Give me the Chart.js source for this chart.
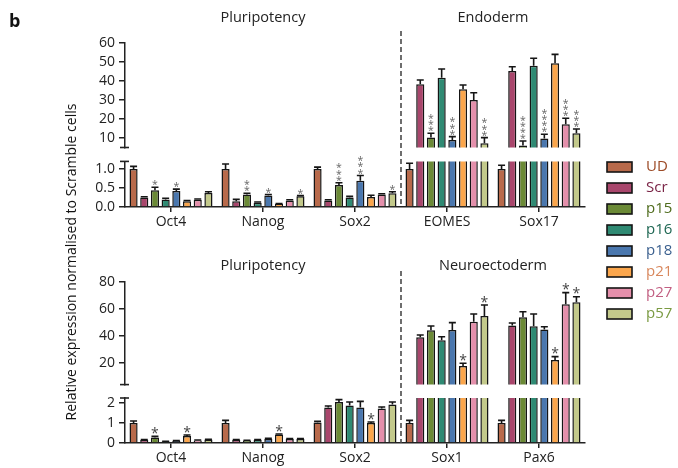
<!DOCTYPE html>
<html>
<head>
<meta charset="utf-8">
<script src="https://cdn.jsdelivr.net/npm/chart.js@4/dist/chart.umd.min.js"></script>
<style>
  body { margin: 0; background: #fff; }
  #wrap { position: relative; width: 678px; height: 468px; }
  #wrap canvas { position: absolute; left: 0; top: 0; }
</style>
</head>
<body>
<div id="wrap">
  <canvas id="topHigh" width="678" height="468"></canvas>
  <canvas id="topLow" width="678" height="468"></canvas>
  <canvas id="botHigh" width="678" height="468"></canvas>
  <canvas id="botLow" width="678" height="468"></canvas>
</div>
<script>
const FONT = "'Open Sans', 'Noto Sans', sans-serif";

const seriesNames = ['UD', 'Scr', 'p15', 'p16', 'p18', 'p21', 'p27', 'p57'];
const topGroups = ['Oct4', 'Nanog', 'Sox2', 'EOMES', 'Sox17'];
const bottomGroups = ['Oct4', 'Nanog', 'Sox2', 'Sox1', 'Pax6'];

// rows = series (UD..p57), columns = genes
const topMean = [
  [1.0, 1.0, 1.0, 1.0, 1.0],
  [0.25, 0.15, 0.17, 38.3, 45.3],
  [0.44, 0.33, 0.58, 10.2, 6.0],
  [0.2, 0.11, 0.25, 41.7, 48.0],
  [0.42, 0.3, 0.69, 9.0, 9.8],
  [0.15, 0.08, 0.26, 35.6, 49.3],
  [0.19, 0.17, 0.33, 30.0, 17.2],
  [0.37, 0.28, 0.36, 7.2, 12.5]
];
const topErr = [
  [0.07, 0.13, 0.05, 0.15, 0.1],
  [0.02, 0.05, 0.02, 2.2, 2.2],
  [0.08, 0.03, 0.06, 2.3, 2.4],
  [0.03, 0.02, 0.03, 4.6, 4.0],
  [0.05, 0.03, 0.14, 1.7, 2.2],
  [0.02, 0.01, 0.05, 2.3, 4.7],
  [0.02, 0.02, 0.02, 3.8, 3.2],
  [0.03, 0.02, 0.04, 3.0, 2.2]
];
const topStars = [
  [0, 0, 0, 0, 0],
  [0, 0, 0, 0, 0],
  [1, 2, 3, 3, 4],
  [0, 0, 0, 0, 0],
  [1, 1, 3, 3, 4],
  [0, 0, 0, 0, 0],
  [0, 0, 0, 0, 3],
  [0, 1, 1, 3, 3]
];

const bottomMean = [
  [1.0, 1.0, 1.03, 1.0, 1.0],
  [0.15, 0.15, 1.77, 39.0, 47.7],
  [0.28, 0.12, 2.05, 44.2, 53.9],
  [0.07, 0.15, 1.87, 36.8, 47.2],
  [0.1, 0.2, 1.78, 44.4, 44.9],
  [0.35, 0.42, 1.0, 17.8, 22.2],
  [0.13, 0.2, 1.73, 50.6, 63.5],
  [0.17, 0.2, 1.93, 54.8, 65.0]
];
const bottomErr = [
  [0.1, 0.13, 0.05, 0.13, 0.13],
  [0.02, 0.02, 0.08, 1.7, 1.9],
  [0.05, 0.02, 0.12, 3.2, 4.1],
  [0.01, 0.02, 0.18, 2.7, 9.1],
  [0.02, 0.03, 0.3, 5.5, 2.0],
  [0.05, 0.03, 0.05, 2.0, 2.5],
  [0.02, 0.02, 0.07, 5.7, 8.6],
  [0.02, 0.02, 0.12, 8.2, 4.1]
];
const bottomStars = [
  [0, 0, 0, 0, 0],
  [0, 0, 0, 0, 0],
  [1, 0, 0, 0, 0],
  [0, 0, 0, 0, 0],
  [0, 0, 0, 0, 0],
  [1, 1, 1, 1, 1],
  [0, 0, 0, 0, 1],
  [0, 0, 0, 1, 1]
];

const topHighTicks = [10, 20, 30, 40, 50, 60];
const topLowTicks = [0, 0.5, 1.0];
const bottomHighTicks = [20, 40, 60, 80];
const bottomLowTicks = [0, 1, 2];

const barColors = ['#b86a4b', '#a9466c', '#6b8a36', '#2f8a73', '#4a77ae', '#fba64c', '#e48fab', '#c3c98b'];
const labelColors = ['#9c4a26', '#7a2446', '#4e6b1c', '#1d6652', '#3a5f8e', '#d8875c', '#c25f82', '#7a9a42'];

// error bars + significance stars, only for bars whose mean falls in this segment
function errorPlugin(means, errs, stars, cfg) {
  return {
    id: 'errbars',
    afterDatasetsDraw(chart) {
      const ctx = chart.ctx;
      const y = chart.scales.y;
      ctx.save();
      means.forEach((row, i) => {
        const meta = chart.getDatasetMeta(i);
        row.forEach((m, j) => {
          if ((m >= cfg.breakAt) !== cfg.upper) return;
          const bar = meta.data[j];
          const yTop = y.getPixelForValue(m);
          const yErr = y.getPixelForValue(m + errs[i][j]);
          ctx.strokeStyle = '#151515';
          ctx.lineWidth = 1.6;
          ctx.beginPath();
          ctx.moveTo(bar.x, yTop);
          ctx.lineTo(bar.x, yErr);
          ctx.moveTo(bar.x - 3.5, yErr);
          ctx.lineTo(bar.x + 3.5, yErr);
          ctx.stroke();
          const n = stars[i][j];
          ctx.fillStyle = cfg.starColor;
          ctx.font = cfg.starSize + 'px ' + FONT;
          ctx.textAlign = 'center';
          ctx.textBaseline = 'alphabetic';
          for (let k = 0; k < n; k++) {
            const cy = yErr - cfg.starGap - k * cfg.starStep;
            ctx.fillText('*', bar.x, cy + cfg.starSize * 0.58);
          }
        });
      });
      ctx.restore();
    }
  };
}

// panel titles, dashed divider
function panelPlugin(titleLeft, titleRight, titleY, dashTop) {
  return {
    id: 'panel',
    afterDraw(chart) {
      const ctx = chart.ctx;
      const x = chart.scales.x;
      const area = chart.chartArea;
      ctx.save();
      ctx.fillStyle = '#222';
      ctx.font = '14.5px ' + FONT;
      ctx.textAlign = 'center';
      ctx.textBaseline = 'middle';
      ctx.fillText(titleLeft, (x.getPixelForValue(0) + x.getPixelForValue(2)) / 2, titleY);
      ctx.fillText(titleRight, (x.getPixelForValue(3) + x.getPixelForValue(4)) / 2, titleY);
      const xd = (x.getPixelForValue(2) + x.getPixelForValue(3)) / 2;
      ctx.strokeStyle = '#4a4a4a';
      ctx.lineWidth = 1.6;
      ctx.setLineDash([5, 3]);
      ctx.beginPath();
      ctx.moveTo(xd, dashTop);
      ctx.lineTo(xd, area.bottom);
      ctx.stroke();
      ctx.restore();
    }
  };
}

// small caps on the y axis where it is broken
const breakCap = {
  id: 'breakCap',
  afterDraw(chart) {
    const ctx = chart.ctx;
    const a = chart.chartArea;
    const yy = chart.options.capAt === 'bottom' ? a.bottom : a.top;
    ctx.save();
    ctx.strokeStyle = '#222';
    ctx.lineWidth = 1.6;
    ctx.beginPath();
    ctx.moveTo(a.left - 5, yy);
    ctx.lineTo(a.left + 4, yy);
    ctx.stroke();
    ctx.restore();
  }
};

const frameExtras = {
  id: 'frameExtras',
  afterDraw(chart) {
    const ctx = chart.ctx;
    ctx.save();
    ctx.fillStyle = '#111';
    ctx.font = 'bold 18px ' + FONT;
    ctx.textAlign = 'left';
    ctx.textBaseline = 'alphabetic';
    ctx.fillText('b', 9, 27);
    ctx.font = '14px ' + FONT;
    ctx.translate(72, 262);
    ctx.rotate(-Math.PI / 2);
    ctx.textAlign = 'center';
    ctx.textBaseline = 'middle';
    ctx.fillText('Relative expression normalised to Scramble cells', 0, 0);
    ctx.restore();
    // legend
    ctx.save();
    chart.data.datasets.forEach((ds, i) => {
      const cy = 167 + i * 21;
      ctx.fillStyle = ds.backgroundColor;
      ctx.fillRect(607, cy - 5, 25, 10);
      ctx.strokeStyle = '#151515';
      ctx.lineWidth = 1.6;
      ctx.strokeRect(607, cy - 5, 25, 10);
      ctx.fillStyle = labelColors[i];
      ctx.font = '15px ' + FONT;
      ctx.textAlign = 'left';
      ctx.textBaseline = 'middle';
      ctx.fillText(ds.label, 646, cy);
    });
    ctx.restore();
  }
};

function makeChart(id, groups, means, errs, stars, cfg) {
  const datasets = seriesNames.map((name, i) => ({
    label: name,
    data: means[i],
    backgroundColor: barColors[i],
    borderColor: '#151515',
    borderWidth: 1.5,
    borderSkipped: 'start',
    categoryPercentage: 0.93,
    barPercentage: 0.76,
    clip: 0
  }));
  return new Chart(document.getElementById(id), {
    type: 'bar',
    data: { labels: groups, datasets: datasets },
    options: {
      responsive: false,
      animation: false,
      capAt: cfg.upper ? 'bottom' : 'top',
      layout: { padding: { left: 0, right: 93, top: cfg.top, bottom: cfg.bottom } },
      plugins: { legend: { display: false }, tooltip: { enabled: false } },
      scales: {
        x: {
          display: !cfg.upper,
          grid: { display: true, offset: false, drawOnChartArea: false, color: '#222', lineWidth: 1.5, tickLength: 5 },
          border: { display: true, color: '#222', width: 1.5 },
          ticks: { color: '#222', font: { family: FONT, size: 14 }, padding: 2, maxRotation: 0 },
          afterFit: s => { s.height = cfg.upper ? 0 : 25; }
        },
        y: {
          min: cfg.min,
          max: cfg.max,
          afterBuildTicks: s => { s.ticks = cfg.ticks.map(v => ({ value: v })); },
          afterFit: s => { s.width = 125; },
          grid: { drawOnChartArea: false, color: '#222', lineWidth: 1.5, tickLength: 6 },
          border: { display: true, color: '#222', width: 1.5 },
          ticks: { color: '#222', font: { family: FONT, size: 14 }, padding: 4, autoSkip: false, callback: cfg.fmt }
        }
      }
    },
    plugins: [errorPlugin(means, errs, stars, cfg), breakCap].concat(cfg.extra || [])
  });
}

const topStarStyle = { starColor: '#666', starSize: 10.5, starGap: 5, starStep: 6.2 };
const botStarStyle = { starColor: '#444', starSize: 14, starGap: 6.5, starStep: 7 };

makeChart('topHigh', topGroups, topMean, topErr, topStars, Object.assign({
  upper: true, breakAt: 1.2, min: 5, max: 60, top: 43, bottom: 468 - 147.5,
  ticks: topHighTicks, fmt: v => String(v)
}, topStarStyle));

makeChart('topLow', topGroups, topMean, topErr, topStars, Object.assign({
  upper: false, breakAt: 1.2, min: 0, max: 1.2, top: 207 - 1.2 * 38, bottom: 468 - 207 - 25,
  ticks: topLowTicks, fmt: v => v.toFixed(1),
  extra: [panelPlugin('Pluripotency', 'Endoderm', 18, 31), frameExtras]
}, topStarStyle));

makeChart('botHigh', bottomGroups, bottomMean, bottomErr, bottomStars, Object.assign({
  upper: true, breakAt: 2.25, min: 4, max: 80, top: 282, bottom: 468 - 384.6,
  ticks: bottomHighTicks, fmt: v => String(v)
}, botStarStyle));

makeChart('botLow', bottomGroups, bottomMean, bottomErr, bottomStars, Object.assign({
  upper: false, breakAt: 2.25, min: 0, max: 2.25, top: 443 - 2.25 * 20, bottom: 0,
  ticks: bottomLowTicks, fmt: v => String(v),
  extra: [panelPlugin('Pluripotency', 'Neuroectoderm', 266, 271)]
}, botStarStyle));
</script>
</body>
</html>
